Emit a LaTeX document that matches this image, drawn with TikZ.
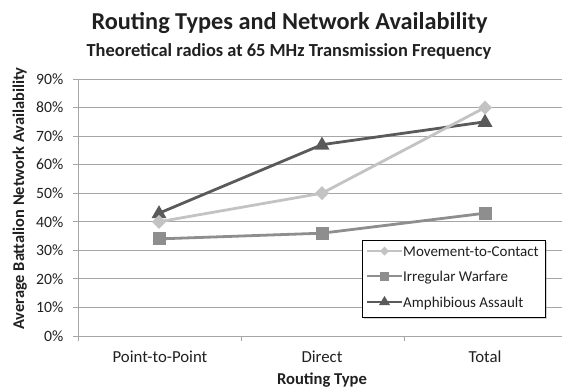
\documentclass[tikz,border=0pt]{standalone}
\usepackage{fontspec}
\setmainfont{Carlito}
\usetikzlibrary{shadows}
\definecolor{gridc}{HTML}{A6A6A6}
\definecolor{mtc}{HTML}{C3C3C3}
\definecolor{iwc}{HTML}{8E8E8E}
\definecolor{aac}{HTML}{5A5A5A}
\definecolor{txt}{HTML}{202020}
\tikzset{
  grid line/.style={draw=gridc, line width=0.9pt},
  tick lab/.style={anchor=east, font=\fontsize{15.7}{15.7}\selectfont, text=txt, inner sep=0pt},
  cat lab/.style={anchor=base, font=\fontsize{16.8}{16.8}\selectfont, text=txt, inner sep=0pt},
  series/.style={line width=2.8pt, line join=round},
  leg lab/.style={anchor=base west, font=\fontsize{15}{15}\selectfont, text=txt, inner sep=0pt},
}
\begin{document}
\begin{tikzpicture}[x=1pt,y=-1pt]
\useasboundingbox (0,0) rectangle (562,389);
% gridlines
\foreach \v in {10,20,...,90}{
  \draw[grid line] (73,{336-\v*2.856}) -- (562,{336-\v*2.856});
}
\foreach \v in {0,10,...,90}{
  \node[tick lab] (t\v) at (63.5,{336-\v*2.856}) {\v\%};
}
% axes
\draw[grid line] (78,79) -- (78,341);
\draw[grid line] (73,336) -- (562,336);
\draw[grid line] (241,336) -- (241,341);
\draw[grid line] (404,336) -- (404,341);
% category labels
\node[cat lab] (c1) at (160,362) {Point-to-Point};
\node[cat lab] (c2) at (322,362) {Direct};
\node[cat lab] (c3) at (485,362) {Total};
% titles
\node[anchor=base, font=\fontsize{24.3}{24.3}\selectfont\bfseries, text=txt, inner sep=0pt] (title) at (289.5,29) {Routing Types and Network Availability};
\node[anchor=base, font=\fontsize{18.4}{18.4}\selectfont\bfseries, text=txt, inner sep=0pt] (sub) at (289,56) {Theoretical radios at 65 MHz Transmission Frequency};
\node[anchor=base, font=\fontsize{16.6}{16.6}\selectfont\bfseries, text=txt, inner sep=0pt] (xt) at (322,384) {Routing Type};
\node[anchor=base, rotate=90, font=\fontsize{16.4}{16.4}\selectfont\bfseries, text=txt, inner sep=0pt] (yt) at (24,198.5) {Average Battalion Network Availability};
% data points
\coordinate (m1) at (159,{336-40*2.856});
\coordinate (m2) at (322,{336-50*2.856});
\coordinate (m3) at (485,{336-80*2.856});
\coordinate (i1) at (159,{336-34*2.856});
\coordinate (i2) at (322,{336-36*2.856});
\coordinate (i3) at (485,{336-43*2.856});
\coordinate (a1) at (159,{336-43*2.856});
\coordinate (a2) at (322,{336-67*2.856});
\coordinate (a3) at (485,{336-75*2.856});
% series
\draw[series, draw=iwc] (i1) -- (i2) -- (i3);
\foreach \p in {i1,i2,i3}{
  \fill[iwc] ([shift={(-6.5,-6.5)}]\p) rectangle ([shift={(6.5,6.5)}]\p);
}
\draw[series, draw=aac] (a1) -- (a2) -- (a3);
\foreach \p in {a1,a2,a3}{
  \fill[aac] ([shift={(0,-8)}]\p) -- ([shift={(7.5,5)}]\p) -- ([shift={(-7.5,5)}]\p) -- cycle;
}
\draw[series, draw=mtc] (m1) -- (m2) -- (m3);
\foreach \p in {m1,m2,m3}{
  \fill[mtc] ([shift={(0,-7)}]\p) -- ([shift={(7,0)}]\p) -- ([shift={(0,7)}]\p) -- ([shift={(-7,0)}]\p) -- cycle;
}
% legend
\node[draw=black, line width=0.6pt, fill=white, drop shadow={shadow xshift=2pt, shadow yshift=-2pt, opacity=0.35}, minimum width=183pt, minimum height=77pt, inner sep=0pt] (leg) at (453.5,278.5) {};
\coordinate (l1a) at (367,251);
\coordinate (l1b) at (402,251);
\coordinate (l2a) at (367,276);
\coordinate (l2b) at (402,276);
\coordinate (l3a) at (367,302);
\coordinate (l3b) at (402,302);
\draw[series, draw=mtc] (l1a) -- (l1b);
\fill[mtc] (384.5,246.5) -- (389,251) -- (384.5,255.5) -- (380,251) -- cycle;
\draw[series, draw=iwc] (l2a) -- (l2b);
\fill[iwc] (380,271.5) rectangle (389,280.5);
\draw[series, draw=aac] (l3a) -- (l3b);
\fill[aac] (384.5,296) -- (390,305) -- (379,305) -- cycle;
\node[leg lab] (lt1) at (403,256) {Movement-to-Contact};
\node[leg lab] (lt2) at (403,281) {Irregular Warfare};
\node[leg lab] (lt3) at (403,307) {Amphibious Assault};
\end{tikzpicture}
\end{document}
